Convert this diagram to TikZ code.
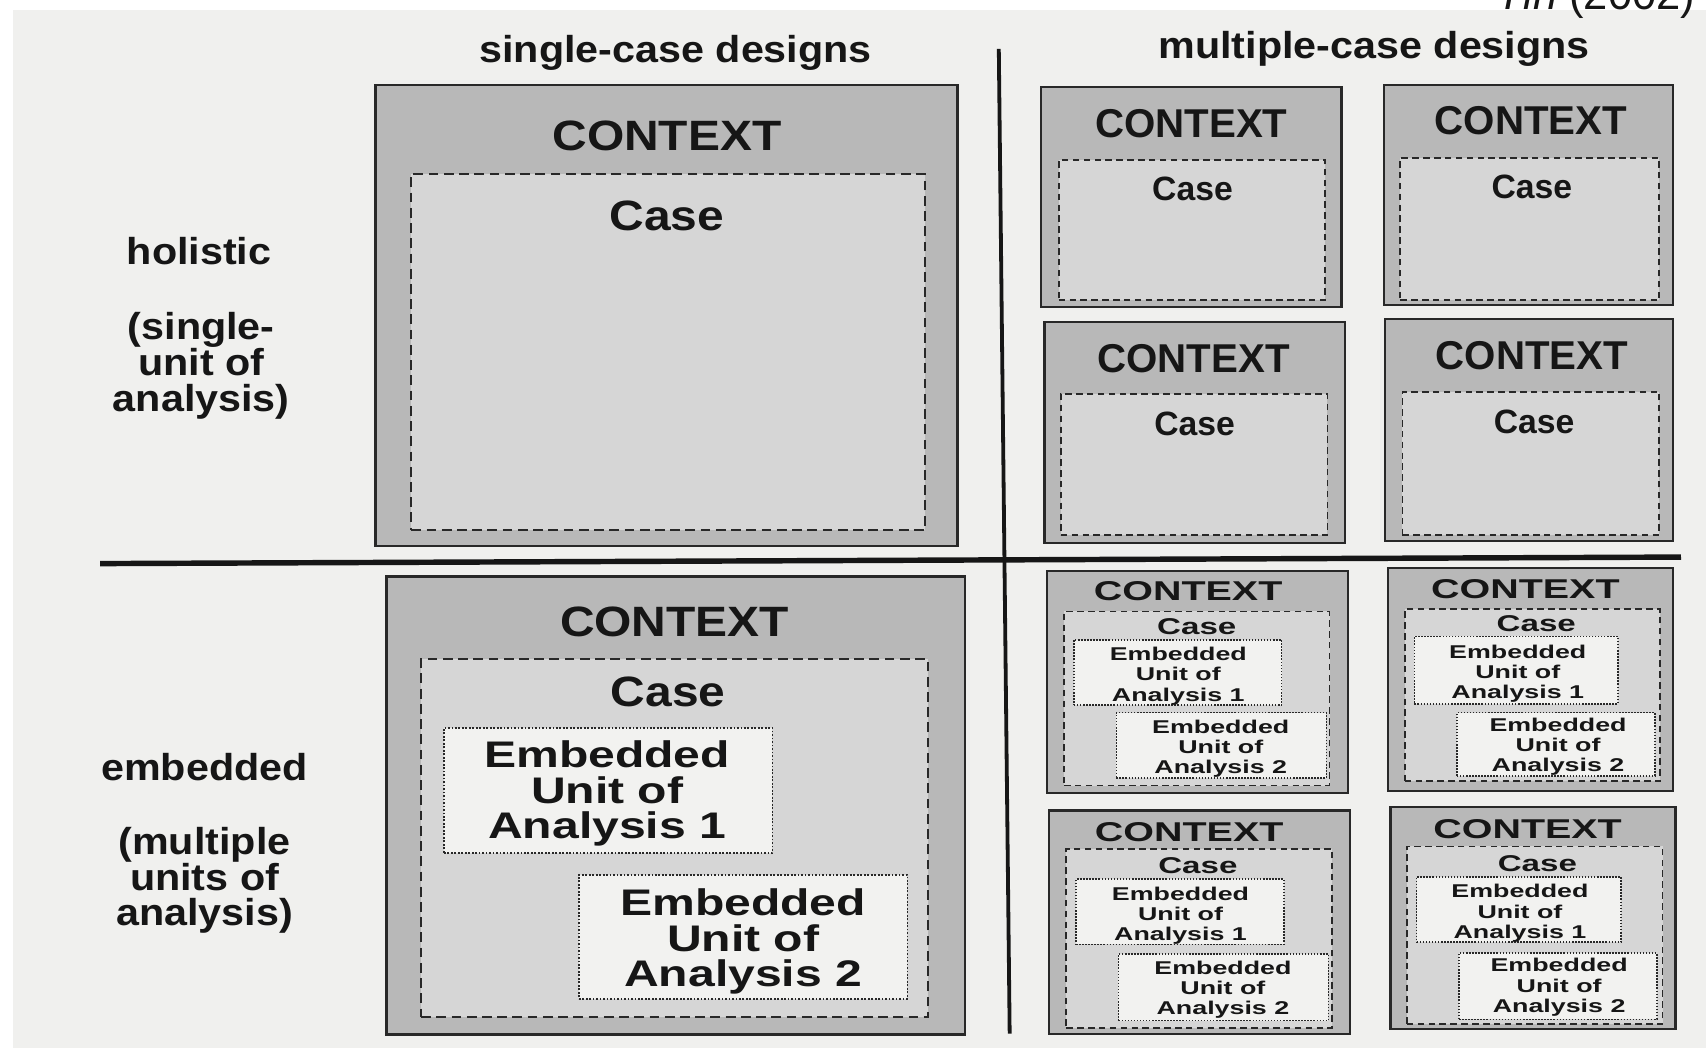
\documentclass[tikz,border=0pt]{standalone}
\usepackage{fontspec}
\setmainfont{Liberation Sans}
\newfontfamily\fL[FakeStretch=1.1]{Liberation Sans}
\newfontfamily\fB[FakeStretch=1.13]{Liberation Sans}
\newfontfamily\fE[FakeStretch=1.3]{Liberation Sans}
\newfontfamily\fS[FakeStretch=1.45]{Liberation Sans}
\definecolor{paper}{RGB}{240,240,238}
\definecolor{ctx}{RGB}{184,184,184}
\definecolor{casef}{RGB}{214,214,214}
\definecolor{embf}{RGB}{242,242,240}
\definecolor{edge}{RGB}{40,40,40}
\definecolor{ink}{RGB}{22,22,22}
\tikzset{
  box/.style={anchor=north west, inner sep=0pt, outer sep=0pt, draw=edge},
  ctxbox/.style={box, line width=2.4pt, fill=ctx},
  casebig/.style={box, line width=1.8pt, fill=casef, dash pattern=on 9pt off 5pt},
  casesmall/.style={box, line width=1.6pt, fill=casef, dash pattern=on 6pt off 4pt},
  embbig/.style={box, line width=1.6pt, fill=embf, dash pattern=on 1.6pt off 1.6pt},
  embsmall/.style={box, line width=1.4pt, fill=embf, dash pattern=on 1.4pt off 1.4pt},
  txt/.style={inner sep=0pt, outer sep=0pt, text=ink, anchor=base},
  hdr/.style={txt, font=\fL\bfseries\fontsize{34.5}{40}\selectfont},
  lbl/.style={txt, anchor=north, align=center, font=\fL\bfseries\fontsize{34.5}{33}\selectfont},
  bigctx/.style={txt, font=\fB\bfseries\fontsize{39}{44}\selectfont},
  bigemb/.style={txt, anchor=north, align=center, font=\fE\bfseries\fontsize{34}{32.5}\selectfont},
  topctx/.style={txt, font=\bfseries\fontsize{37}{40}\selectfont},
  topcase/.style={txt, font=\bfseries\fontsize{31}{36}\selectfont},
  smctx/.style={txt, font=\fS\bfseries\fontsize{25}{30}\selectfont},
  smcase/.style={txt, font=\fS\bfseries\fontsize{21}{25}\selectfont},
  smemb/.style={txt, anchor=north, align=center, font=\fS\bfseries\fontsize{17}{18.5}\selectfont},
  divider/.style={draw=ink, line cap=butt},
}
\begin{document}
\begin{tikzpicture}[x=1pt,y=-1pt]
\useasboundingbox (0,0) rectangle (1568,969);
\fill[white] (0,0) rectangle (1568,969);
\fill[paper] (12,9) rectangle (1568,963);
\node[txt, anchor=base east, font=\fontsize{40}{44}\selectfont] (yin) at (1558,9) {\itshape Yin\/\upshape{} (2002)};

% headers
\node[hdr] (hsingle) at (621,57) {single-case designs};
\node[hdr] (hmulti) at (1263,54) {multiple-case designs};

% dividers
\coordinate (vtop) at (918,45);
\coordinate (vbot) at (928,950);
\coordinate (hl) at (92,518);
\coordinate (hr) at (1545,512);
\draw[divider, line width=5pt] (hl) -- (hr);
\draw[divider, line width=3.5pt] (vtop) -- (vbot);

% row labels
\node[hdr] (lhol) at (183,243) {holistic};
\node[lbl] (lhol2) at (185,287) {(single-\\unit of\\analysis)};
\node[hdr] (lemb) at (188,717) {embedded};
\node[lbl] (lemb2) at (188,760) {(multiple\\units of\\analysis)};

% ---- single-case holistic
\node[ctxbox, minimum width=535, minimum height=424] (ctxA) at (345,78) {};
\node[casebig, minimum width=472, minimum height=327] (caseA) at (378,160) {};
\node[bigctx] (tA) at (613,138) {CONTEXT};
\node[bigctx] (cA) at (613,212) {Case};

% ---- single-case embedded
\node[ctxbox, minimum width=532, minimum height=421] (ctxE) at (355,530) {};
\node[casebig, minimum width=466, minimum height=329] (caseE) at (387,606) {};
\node[bigctx] (tE) at (620,585) {CONTEXT};
\node[bigctx] (cE) at (614,649) {Case};
\node[embbig, minimum width=302, minimum height=115] (eE1) at (408,669) {};
\node[embbig, minimum width=302, minimum height=114] (eE2) at (532,804) {};
\node[bigemb] (uE1) at (558,681) {Embedded\\Unit of\\Analysis 1};
\node[bigemb] (uE2) at (683,817) {Embedded\\Unit of\\Analysis 2};

% ---- multiple-case holistic
\node[ctxbox, line width=2pt, minimum width=276, minimum height=202] (ctxMA) at (957,80) {};
\node[casesmall, minimum width=245, minimum height=129] (caseMA) at (973,147) {};
\node[topctx] (tMA) at (1095,126) {CONTEXT};
\node[topcase] (cMA) at (1096,184) {Case};

\node[ctxbox, line width=2pt, minimum width=266, minimum height=202] (ctxMB) at (1272,78) {};
\node[casesmall, minimum width=238, minimum height=131] (caseMB) at (1287,145) {};
\node[topctx] (tMB) at (1407,124) {CONTEXT};
\node[topcase] (cMB) at (1408,182) {Case};

\node[ctxbox, line width=2pt, minimum width=276, minimum height=203] (ctxMC) at (960,296) {};
\node[casesmall, minimum width=245, minimum height=130] (caseMC) at (975,362) {};
\node[topctx] (tMC) at (1097,342) {CONTEXT};
\node[topcase] (cMC) at (1098,400) {Case};

\node[ctxbox, line width=2pt, minimum width=265, minimum height=204] (ctxMD) at (1273,293) {};
\node[casesmall, minimum width=236, minimum height=132] (caseMD) at (1289,360) {};
\node[topctx] (tMD) at (1408,340) {CONTEXT};
\node[topcase] (cMD) at (1410,398) {Case};

% ---- multiple-case embedded
% E
\node[ctxbox, line width=2pt, minimum width=277, minimum height=204] (ctxNE) at (962,525) {};
\node[casesmall, minimum width=244, minimum height=160] (caseNE) at (978,562) {};
\node[smctx] (tNE) at (1092,552) {CONTEXT};
\node[smcase] (cNE) at (1100,583) {Case};
\node[embsmall, minimum width=191, minimum height=60] (eNE1) at (987,588) {};
\node[embsmall, minimum width=193, minimum height=60] (eNE2) at (1026,655) {};
\node[smemb] (uNE1) at (1083,595) {Embedded\\Unit of\\Analysis 1};
\node[smemb] (uNE2) at (1122,662) {Embedded\\Unit of\\Analysis 2};
% F
\node[ctxbox, line width=2pt, minimum width=262, minimum height=205] (ctxNF) at (1276,522) {};
\node[casesmall, minimum width=235, minimum height=158] (caseNF) at (1291,560) {};
\node[smctx] (tNF) at (1402,550) {CONTEXT};
\node[smcase] (cNF) at (1412,580) {Case};
\node[embsmall, minimum width=187, minimum height=62] (eNF1) at (1300,585) {};
\node[embsmall, minimum width=182, minimum height=58] (eNF2) at (1339,655) {};
\node[smemb] (uNF1) at (1395,593) {Embedded\\Unit of\\Analysis 1};
\node[smemb] (uNF2) at (1432,660) {Embedded\\Unit of\\Analysis 2};
% G
\node[ctxbox, line width=2pt, minimum width=277, minimum height=205] (ctxNG) at (964,745) {};
\node[casesmall, minimum width=244, minimum height=165] (caseNG) at (980,780) {};
\node[smctx] (tNG) at (1093,773) {CONTEXT};
\node[smcase] (cNG) at (1101,803) {Case};
\node[embsmall, minimum width=191, minimum height=60] (eNG1) at (989,808) {};
\node[embsmall, minimum width=193, minimum height=61] (eNG2) at (1028,877) {};
\node[smemb] (uNG1) at (1085,815) {Embedded\\Unit of\\Analysis 1};
\node[smemb] (uNG2) at (1124,883) {Embedded\\Unit of\\Analysis 2};
% H
\node[ctxbox, line width=2pt, minimum width=262, minimum height=204] (ctxNH) at (1278,742) {};
\node[casesmall, minimum width=235, minimum height=163] (caseNH) at (1293,778) {};
\node[smctx] (tNH) at (1404,771) {CONTEXT};
\node[smcase] (cNH) at (1413,801) {Case};
\node[embsmall, minimum width=188, minimum height=60] (eNH1) at (1302,806) {};
\node[embsmall, minimum width=182, minimum height=61] (eNH2) at (1341,876) {};
\node[smemb] (uNH1) at (1397,813) {Embedded\\Unit of\\Analysis 1};
\node[smemb] (uNH2) at (1433,881) {Embedded\\Unit of\\Analysis 2};
\end{tikzpicture}
\end{document}
